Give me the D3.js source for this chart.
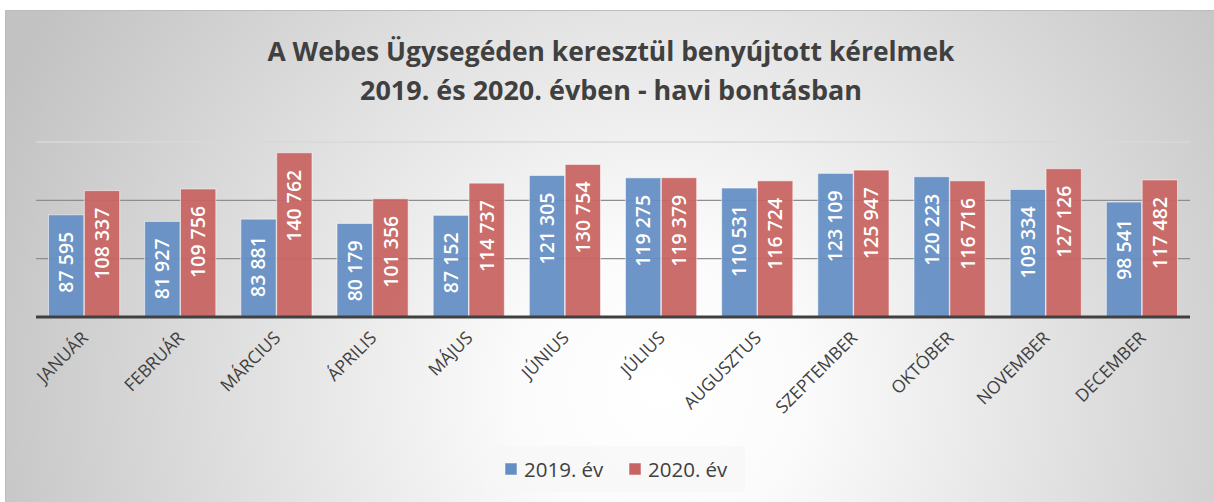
<!DOCTYPE html>
<html><head><meta charset="utf-8">
<script src="https://cdn.jsdelivr.net/npm/d3@7"></script>
<style>html,body{margin:0;padding:0;background:#fff;}svg{display:block;}</style>
</head><body>
<svg id="c" width="1214" height="502"></svg>
<script>
const months = ["JANUÁR","FEBRUÁR","MÁRCIUS","ÁPRILIS","MÁJUS","JÚNIUS","JÚLIUS","AUGUSZTUS","SZEPTEMBER","OKTÓBER","NOVEMBER","DECEMBER"];
const series = ["2019. év","2020. év"];
const values2019 = [87595,81927,83881,80179,87152,121305,119275,110531,123109,120223,109334,98541];
const values2020 = [108337,109756,140762,101356,114737,130754,119379,116724,125947,116716,127126,117482];
const gridTicks = [50000,100000,150000];
const titleLines = ["A Webes Ügysegéden keresztül benyújtott kérelmek","2019. és 2020. évben - havi bontásban"];
const colors = ["#658fc4","#c76563"];

const svg = d3.select("#c");
const defs = svg.append("defs");
const rg = defs.append("radialGradient").attr("id","bg").attr("gradientUnits","userSpaceOnUse")
  .attr("cx",660).attr("cy",390).attr("r",720);
rg.append("stop").attr("offset","0").attr("stop-color","#ffffff");
rg.append("stop").attr("offset","0.2").attr("stop-color","#fbfbfb");
rg.append("stop").attr("offset","1").attr("stop-color","#c2c2c2");

svg.append("rect").attr("x",5.5).attr("y",10.5).attr("width",1220).attr("height",500)
  .attr("fill","url(#bg)").attr("stroke","#bcbcbc").attr("stroke-width",1);

const font = "'Open Sans', sans-serif";
const titleW = [687, 502];
svg.append("g").selectAll("text").data(titleLines).join("text")
  .attr("x",611).attr("y",(d,i)=>61+i*39)
  .attr("text-anchor","middle").attr("font-family",font).attr("font-weight","bold")
  .attr("font-size",26).attr("fill","#404040")
  .attr("textLength",(d,i)=>titleW[i]).attr("lengthAdjust","spacingAndGlyphs")
  .text(d=>d);

const x0 = d3.scaleBand().domain(months).range([36,1190]).paddingInner(0.26).paddingOuter(0.13);
const x1 = d3.scaleBand().domain(series).range([0,x0.bandwidth()]).paddingInner(0.015);
const y = d3.scaleLinear().domain([0,150000]).range([317,142]);

// gridlines
svg.append("g").selectAll("line").data(gridTicks).join("line")
  .attr("x1",36).attr("x2",1190).attr("y1",d=>y(d)).attr("y2",d=>y(d))
  .attr("stroke",d=>d===150000?"#d8d8d8":"#8e8e8e").attr("stroke-width",1.3);

const data = months.map((m,i)=>({m, vals:[values2019[i],values2020[i]]}));
const g = svg.append("g");
data.forEach(d=>{
  d.vals.forEach((v,j)=>{
    const bx = x0(d.m)+x1(series[j]);
    g.append("rect").attr("x",bx).attr("y",y(v)).attr("width",x1.bandwidth()).attr("height",y(0)-y(v))
      .attr("fill",colors[j]).attr("fill-opacity",0.95)
      .attr("stroke","rgba(255,255,255,0.55)").attr("stroke-width",1);
    const cx = bx + x1.bandwidth()/2;
    const ty = y(v)+17;
    g.append("text").attr("transform",`translate(${cx+7},${ty}) rotate(-90)`)
      .attr("text-anchor","end").attr("font-family",font).attr("font-weight",600)
      .attr("font-size",19.5).attr("fill","#ffffff")
      .text(d3.format(",")(v).replace(/,/g," "));
  });
});

// axis line
svg.append("line").attr("x1",36).attr("x2",1190).attr("y1",317).attr("y2",317)
  .attr("stroke","#404040").attr("stroke-width",3);

// month labels
svg.append("g").selectAll("text").data(months).join("text")
  .attr("transform",d=>`translate(${x0(d)+x0.bandwidth()/2+5},${339}) rotate(-45)`)
  .attr("text-anchor","end").attr("font-family",font).attr("font-size",17.5)
  .attr("fill","#404040").text(d=>d);

// legend
svg.append("rect").attr("x",483).attr("y",446).attr("width",262).attr("height",46)
  .attr("fill","#f6f6f6").attr("fill-opacity",0.7);
const lx = [505,629];
series.forEach((s,i)=>{
  svg.append("rect").attr("x",lx[i]).attr("y",463).attr("width",12).attr("height",12)
    .attr("fill",colors[i]).attr("stroke","rgba(255,255,255,0.5)");
  svg.append("text").attr("x",lx[i]+19).attr("y",477).attr("font-family",font)
    .attr("font-size",20.5).attr("fill","#404040").text(s);
});
</script>
</body></html>
